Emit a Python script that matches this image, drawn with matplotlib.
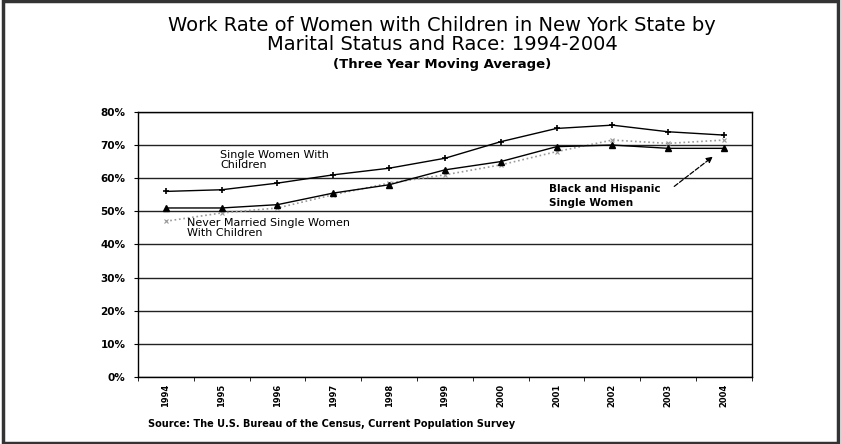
import numpy as np
import matplotlib
matplotlib.use('Agg')
import matplotlib.pyplot as plt
from matplotlib.patches import Rectangle

plt.rcParams['font.family'] = ['DejaVu Sans']

years = ['1994', '1995', '1996', '1997', '1998', '1999', '2000', '2001', '2002', '2003', '2004']
single_women = [56, 56.5, 58.5, 61, 63, 66, 71, 75, 76, 74, 73]
black_hispanic = [51, 51, 52, 55.5, 58, 62.5, 65, 69.5, 70, 69, 69]
never_married = [47, 49.5, 51, 55, 58.5, 61, 64, 68, 71.5, 70.5, 71.5]
y_ticks = [0, 10, 20, 30, 40, 50, 60, 70, 80]

fig = plt.figure(figsize=(8.41, 4.44), dpi=100)
fig.patches.append(Rectangle((0.004, 0.003), 0.992, 0.994, transform=fig.transFigure,
                             fill=False, edgecolor='#333333', linewidth=2.5))

ax = fig.add_axes([0.164, 0.151, 0.730, 0.597])
x = np.arange(len(years))

# grey dotted series sits underneath the two black ones
ax.plot(x, never_married, color='#999999', linestyle=':', linewidth=1.2,
        marker='x', markersize=3, markeredgewidth=0.8)
ax.plot(x, black_hispanic, color='black', linewidth=1, marker='^', markersize=4)
ax.plot(x, single_women, color='black', linewidth=1, marker='+', markersize=4,
        markeredgewidth=1.2)

ax.set_xlim(-0.5, len(years) - 0.5)
ax.set_ylim(0, 80)
ax.set_yticks(y_ticks)
ax.set_yticklabels([f'{v}%' for v in y_ticks], fontsize=7.5, fontweight='bold')
ax.yaxis.grid(True, color='#222222', linewidth=1)
ax.set_axisbelow(True)

ax.set_xticks(x)
ax.set_xticklabels(years, rotation=90, fontsize=6, fontweight='bold')
ax.tick_params(axis='x', length=0, pad=5)
ax.set_xticks(np.arange(-0.5, len(years), 1), minor=True)
ax.tick_params(axis='x', which='minor', length=3, direction='out')
ax.tick_params(axis='y', length=3, direction='out', pad=6)

for s in ax.spines.values():
    s.set_color('black')
    s.set_linewidth(1)

ax.text(0.97, 68.5, 'Single Women With\nChildren', fontsize=8, va='top', ha='left',
        linespacing=1.0)
ax.text(0.38, 48, 'Never Married Single Women\nWith Children', fontsize=8,
        va='top', ha='left', linespacing=1.0)
ax.text(6.86, 54.7, 'Black and Hispanic\nSingle Women', fontsize=7.5, fontweight='bold',
        va='center', ha='left', linespacing=1.5)
ax.annotate('', xy=(9.84, 67), xytext=(9.07, 57),
            arrowprops=dict(arrowstyle='-|>', linestyle='--', color='black',
                            linewidth=0.9, mutation_scale=9))

fig.text(0.526, 0.965, 'Work Rate of Women with Children in New York State by\n'
         'Marital Status and Race: 1994-2004', ha='center', va='top',
         fontsize=14, linespacing=1.0)
fig.text(0.526, 0.87, '(Three Year Moving Average)', ha='center', va='top',
         fontsize=9.5, fontweight='bold')
fig.text(0.176, 0.045, 'Source: The U.S. Bureau of the Census, Current Population Survey',
         ha='left', va='center', fontsize=7, fontweight='bold')

fig.savefig('out.png', dpi=100)
